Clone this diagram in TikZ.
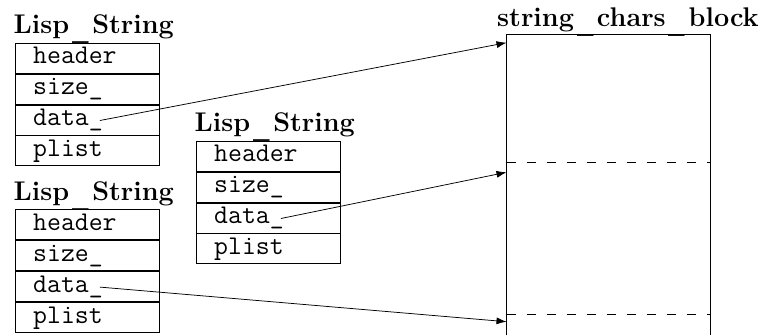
\documentclass[tikz,border=0pt]{standalone}
\usepackage{fontspec}
\usepackage{graphicx}
\usetikzlibrary{arrows.meta}

% underscore in the bold titles: narrower, heavier and below the baseline
\newcommand\lowus{\kern0.12em\raisebox{-0.15em}{\scalebox{0.72}[1.5]{\_}}\kern0.12em}

% One Lisp_String record: four stacked field cells with a bold title above.
% #1 = name prefix, #2/#3 = top-left corner of the first cell
\newcommand\lispstruct[3]{%
  \node[cell] (#1h) at (#2,#3) {};
  \node[cell] (#1s) at (#1h.south west) {};
  \node[cell] (#1d) at (#1s.south west) {};
  \node[cell] (#1p) at (#1d.south west) {};
  \node[field] (#1ht) at ([xshift=18pt,yshift=-21pt]#1h.north west) {header};
  \node[field] (#1st) at ([xshift=18pt,yshift=-21pt]#1s.north west) {size\_};
  \node[field] (#1dt) at ([xshift=18pt,yshift=-21pt]#1d.north west) {data\_};
  \node[field] (#1pt) at ([xshift=18pt,yshift=-21pt]#1p.north west) {plist};
  \node[title] (#1tt) at ([xshift=-1.5pt,yshift=9pt]#1h.north west) {Lisp\lowus String};
}

\begin{document}
\begin{tikzpicture}[x=1pt,y=-1pt,
  title/.style={font=\fontsize{27}{30}\selectfont\bfseries, anchor=base west, inner sep=0pt},
  cell/.style={draw, line width=0.9pt, minimum width=143.5pt, minimum height=30pt,
               inner sep=0pt, anchor=north west},
  field/.style={font=\fontsize{27}{30}\selectfont\ttfamily, anchor=base west, inner sep=0pt},
  ptr/.style={line width=0.75pt, -{Latex[length=10pt,width=7pt]}},
  sep/.style={line width=0.75pt, dash pattern=on 9pt off 11pt}]

\useasboundingbox (0,0) rectangle (760,335);

% the three string headers
\lispstruct{A}{15}{42.7}
\lispstruct{B}{196}{140.7}
\lispstruct{C}{15}{209.3}

% the shared character block (open at the bottom)
\node[title] (blktt) at (497,26.7) {string\lowus chars\lowus block};
\node[minimum width=203.5pt, minimum height=300.5pt, inner sep=0pt, anchor=north west]
  (blk) at (506.5,34.5) {};
\draw[line width=0.9pt] (blk.south west) -- (blk.north west) -- (blk.north east) -- (blk.south east);

\coordinate (cut1) at (506.5,162.7);
\coordinate (cut2) at (506.5,314);
\draw[sep] (cut1) -- (cut1 -| blk.east);
\draw[sep] (cut2) -- (cut2 -| blk.east);

% where each data_ pointer lands
\coordinate (slot1) at (506.5,42.7);
\coordinate (slot2) at (506.5,172.3);
\coordinate (slot3) at (506.5,321.7);

\draw[ptr] ([xshift=-3pt,yshift=5pt]Adt.base east) -- (slot1);
\draw[ptr] ([xshift=-3pt,yshift=5pt]Bdt.base east) -- (slot2);
\draw[ptr] ([xshift=-3pt,yshift=5pt]Cdt.base east) -- (slot3);
\end{tikzpicture}
\end{document}
